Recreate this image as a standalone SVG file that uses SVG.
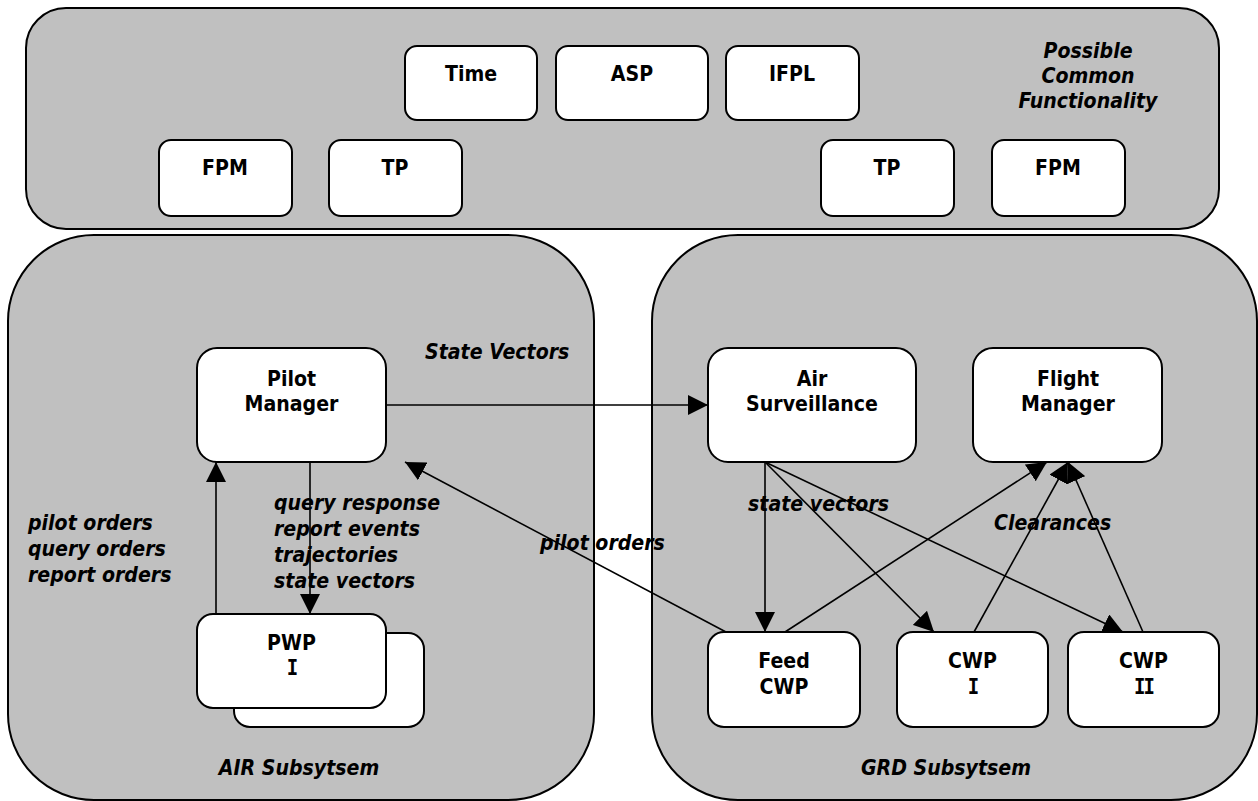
<svg xmlns="http://www.w3.org/2000/svg" width="1258" height="801" viewBox="0 0 1258 801">
  <style>
    .area { fill: #c0c0c0; stroke: #000; stroke-width: 2; }
    .box { fill: #fff; stroke: #000; stroke-width: 2; }
    .lbl { font-family: "DejaVu Sans", Verdana, sans-serif; font-weight: bold; font-size: 19px; fill: #000; text-anchor: middle; }
    .note { font-family: "DejaVu Sans", Verdana, sans-serif; font-weight: bold; font-style: italic; font-size: 19px; fill: #000; }
    .mid { text-anchor: middle; }
    .roman { font-family: "DejaVu Sans Mono", monospace; letter-spacing: -2px; }
    .link { fill: none; stroke: #000; stroke-width: 1.6; marker-end: url(#head); }
  </style>
  <defs>
    <marker id="head" viewBox="0 0 20 20" refX="20" refY="10" markerWidth="20" markerHeight="20" markerUnits="userSpaceOnUse" orient="auto">
      <path d="M0,0 L20,10 L0,20 Z" fill="#000"/>
    </marker>
  </defs>

  <!-- shared functionality band; lettering is drawn slightly tall (scale 1 x 1.14) -->
  <g id="common">
    <rect class="area" x="26" y="8" width="1193" height="221" rx="40"/>
    <text class="note mid" transform="translate(1088,58) scale(1,1.14)">Possible<tspan x="0" dy="22">Common</tspan><tspan x="0" dy="22">Functionality</tspan></text>
  </g>
  <g id="time"><rect class="box" x="405" y="46" width="132" height="74" rx="12"/><text class="lbl" transform="translate(471,81) scale(1,1.14)">Time</text></g>
  <g id="asp"><rect class="box" x="556" y="46" width="152" height="74" rx="12"/><text class="lbl" transform="translate(632,81) scale(1,1.14)">ASP</text></g>
  <g id="ifpl"><rect class="box" x="726" y="46" width="133" height="74" rx="12"/><text class="lbl" transform="translate(792,81) scale(1,1.14)">IFPL</text></g>
  <g id="fpm-air"><rect class="box" x="159" y="140" width="133" height="76" rx="12"/><text class="lbl" transform="translate(225,175) scale(1,1.14)">FPM</text></g>
  <g id="tp-air"><rect class="box" x="329" y="140" width="133" height="76" rx="12"/><text class="lbl" transform="translate(395,175) scale(1,1.14)">TP</text></g>
  <g id="tp-grd"><rect class="box" x="821" y="140" width="133" height="76" rx="12"/><text class="lbl" transform="translate(887,175) scale(1,1.14)">TP</text></g>
  <g id="fpm-grd"><rect class="box" x="992" y="140" width="133" height="76" rx="12"/><text class="lbl" transform="translate(1058,175) scale(1,1.14)">FPM</text></g>

  <!-- subsystems -->
  <g id="air-subsystem">
    <rect class="area" x="8" y="235" width="586" height="565" rx="86"/>
    <text class="note mid" transform="translate(299,775) scale(1,1.14)">AIR Subsytsem</text>
  </g>
  <g id="grd-subsystem">
    <rect class="area" x="652" y="235" width="605" height="565" rx="86"/>
    <text class="note mid" transform="translate(946,775) scale(1,1.14)">GRD Subsytsem</text>
  </g>

  <g id="pilot-manager"><rect class="box" x="197" y="348" width="189" height="114" rx="20"/><text class="lbl" transform="translate(291.5,386) scale(1,1.14)">Pilot<tspan x="0" dy="22">Manager</tspan></text></g>
  <g id="pwp">
    <rect class="box" x="234" y="633" width="190" height="94" rx="16"/>
    <rect class="box" x="197" y="614" width="189" height="94" rx="16"/>
    <text class="lbl" transform="translate(291.5,650) scale(1,1.14)">PWP<tspan class="roman" x="0" dy="22">I</tspan></text>
  </g>
  <g id="air-surveillance"><rect class="box" x="708" y="348" width="208" height="114" rx="20"/><text class="lbl" transform="translate(812,386) scale(1,1.14)">Air<tspan x="0" dy="22">Surveillance</tspan></text></g>
  <g id="flight-manager"><rect class="box" x="973" y="348" width="189" height="114" rx="20"/><text class="lbl" transform="translate(1068,386) scale(1,1.14)">Flight<tspan x="0" dy="22">Manager</tspan></text></g>
  <g id="feed-cwp"><rect class="box" x="708" y="632" width="152" height="95" rx="16"/><text class="lbl" transform="translate(784,668) scale(1,1.14)">Feed<tspan x="0" dy="22.5">CWP</tspan></text></g>
  <g id="cwp-1"><rect class="box" x="897" y="632" width="151" height="95" rx="16"/><text class="lbl" transform="translate(972.5,668) scale(1,1.14)">CWP<tspan class="roman" x="0" dy="22.5">I</tspan></text></g>
  <g id="cwp-2"><rect class="box" x="1068" y="632" width="151" height="95" rx="16"/><text class="lbl" transform="translate(1143.5,668) scale(1,1.14)">CWP<tspan class="roman" x="0" dy="22.5">II</tspan></text></g>

  <!-- connectors -->
  <g id="connectors">
    <line class="link" x1="386" y1="405" x2="708" y2="405"/>
    <line class="link" x1="216" y1="614" x2="216" y2="462"/>
    <line class="link" x1="310" y1="462" x2="310" y2="614"/>
    <line class="link" x1="726" y1="632" x2="405" y2="462"/>
    <line class="link" x1="765" y1="462" x2="765" y2="632"/>
    <line class="link" x1="765" y1="462" x2="934" y2="632"/>
    <line class="link" x1="765" y1="462" x2="1123" y2="632"/>
    <line class="link" x1="785" y1="632" x2="1047" y2="462"/>
    <line class="link" x1="974" y1="632" x2="1068" y2="462"/>
    <line class="link" x1="1143" y1="632" x2="1068" y2="462"/>
  </g>

  <!-- connector labels -->
  <g id="labels">
    <text class="note" transform="translate(425,359) scale(1,1.14)">State Vectors</text>
    <text class="note" transform="translate(28,530) scale(1,1.14)">pilot orders<tspan x="0" dy="22.8">query orders</tspan><tspan x="0" dy="22.8">report orders</tspan></text>
    <text class="note" transform="translate(274,510) scale(1,1.14)">query response<tspan x="0" dy="22.8">report events</tspan><tspan x="0" dy="22.8">trajectories</tspan><tspan x="0" dy="22.8">state vectors</tspan></text>
    <text class="note" transform="translate(540,550) scale(1,1.14)">pilot orders</text>
    <text class="note" transform="translate(748,511) scale(1,1.14)">state vectors</text>
    <text class="note" transform="translate(994,530) scale(1,1.14)">Clearances</text>
  </g>
</svg>
